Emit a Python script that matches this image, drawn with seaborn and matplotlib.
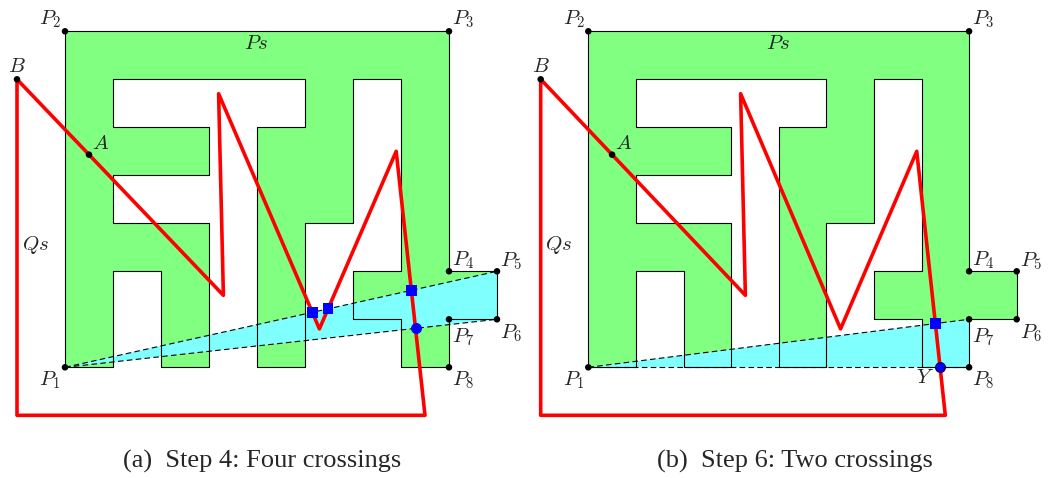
import numpy as np
import matplotlib
matplotlib.use("Agg")
import matplotlib.pyplot as plt
import seaborn as sns

# ------------------------------------------------------------------
# geometry (grid units, P1 at origin)
# ------------------------------------------------------------------
ps_x = [0, 1, 1, 2, 2, 3, 3, 1, 1, 3, 3, 1, 1, 5, 5, 4, 4, 5, 5, 6, 6, 7, 7, 6, 6, 7, 7, 8, 8, 9, 9, 8, 8, 0]
ps_y = [0, 0, 2, 2, 0, 0, 3, 3, 4, 4, 5, 5, 6, 6, 5, 5, 0, 0, 3, 3, 6, 6, 2, 2, 1, 1, 0, 0, 1, 1, 2, 2, 7, 7]

qs_x = [-1, 3.3, 3.2, 5.3, 6.9, 7.5, -1, -1]
qs_y = [6, 1.5, 5.7, 0.8, 4.5, -1, -1, 6]

pt_names = ["P_1", "P_2", "P_3", "P_4", "P_5", "P_6", "P_7", "P_8"]
pt_x = [0, 0, 8, 8, 9, 9, 8, 8]
pt_y = [0, 7, 7, 2, 2, 1, 1, 0]
pt_off = [(-0.31, -0.27), (-0.31, 0.25), (0.3, 0.25), (0.3, 0.23),
          (0.3, 0.2), (0.3, -0.28), (0.3, -0.38), (0.3, -0.27)]

a_pt = (0.5, 4.43)
b_pt = (-1, 6)

captions = ["(a)  Step 4: Four crossings", "(b)  Step 6: Two crossings"]

GREEN = "#80FF80"
CYAN = "#80FFFF"
RED = "#FF0000"
BLUE = "#0000FF"


def ray_hits(seg_ids, d):
    # intersections of ray from origin along d with red segments
    out = []
    for i in seg_ids:
        p = np.array([qs_x[i], qs_y[i]])
        q = np.array([qs_x[i + 1], qs_y[i + 1]])
        m = np.array([[d[0], -(q - p)[0]], [d[1], -(q - p)[1]]])
        s, t = np.linalg.solve(m, p)
        out.append(p + t * (q - p))
    return np.array(out)


sns.set_style("white")
plt.rcParams["mathtext.fontset"] = "cm"
plt.rcParams["font.family"] = ["Liberation Serif", "DejaVu Serif"]

fig = plt.figure(figsize=(10.48, 4.78), dpi=100)

panels = [
    dict(pos=[0, 38 / 478, 524 / 1048, 440 / 478], p0=65.0, ux=48.0,
         tri=(4, 5), sq=([2, 3, 4], (9, 2)), circ=([4], (9, 1)), circ_edge=BLUE, ylab=False),
    dict(pos=[524 / 1048, 38 / 478, 524 / 1048, 440 / 478], p0=588.3 - 524, ux=47.6,
         tri=(6, 7), sq=([4], (8, 1)), circ=([4], (8, 0.0001)), circ_edge="#000040", ylab=True),
]

for k, pan in enumerate(panels):
    ax = fig.add_axes(pan["pos"])
    ax.set_xlim(-pan["p0"] / pan["ux"], (524 - pan["p0"]) / pan["ux"])
    ax.set_ylim((367.3 - 440) / 48, 367.3 / 48)
    ax.set_axis_off()

    # green polygon
    ax.fill(ps_x, ps_y, facecolor=GREEN, edgecolor="none", zorder=1)
    # cyan triangle
    i, j = pan["tri"]
    ax.fill([0, pt_x[i], pt_x[j]], [0, pt_y[i], pt_y[j]], facecolor=CYAN, edgecolor="none", zorder=2)
    # outline
    ax.plot(ps_x + [ps_x[0]], ps_y + [ps_y[0]], color="black", lw=0.8, zorder=3)
    # dashed rays
    for n in (i, j):
        ax.plot([0, pt_x[n]], [0, pt_y[n]], color="black", lw=0.8, ls=(0, (5, 3)), zorder=4)

    # red polygon
    sns.lineplot(x=qs_x, y=qs_y, sort=False, estimator=None, color=RED, lw=2.6, ax=ax, zorder=5)

    # black points
    sns.scatterplot(x=pt_x + [a_pt[0], b_pt[0]], y=pt_y + [a_pt[1], b_pt[1]],
                    color="black", s=22, edgecolor="none", ax=ax, zorder=6)

    # crossings
    sq = ray_hits(*pan["sq"])
    sns.scatterplot(x=sq[:, 0], y=sq[:, 1], marker="s", color=BLUE, s=60,
                    edgecolor="none", ax=ax, zorder=7)
    ci = ray_hits(*pan["circ"])
    sns.scatterplot(x=ci[:, 0], y=ci[:, 1], marker="o", color=BLUE, s=50,
                    edgecolor=pan["circ_edge"], linewidth=0.8, ax=ax, zorder=7)

    # labels
    for name, x, y, (dx, dy) in zip(pt_names, pt_x, pt_y, pt_off):
        ax.text(x + dx, y + dy, f"${name}$", fontsize=15, ha="center", va="center", zorder=8)
    ax.text(b_pt[0], b_pt[1] + 0.25, "$B$", fontsize=15, ha="center", va="center")
    ax.text(a_pt[0] + 0.23, a_pt[1] + 0.22, "$A$", fontsize=15, ha="center", va="center")
    ax.text(3.98, 6.73, "$Ps$", fontsize=15, ha="center", va="center")
    ax.text(-0.62, 2.55, "$Qs$", fontsize=15, ha="center", va="center")
    if pan["ylab"]:
        ax.text(ci[0, 0] - 0.32, -0.24, "$Y$", fontsize=15, ha="center", va="center")

fig.text(262 / 1048, 1 - 461 / 478, captions[0], fontsize=19, ha="center", va="center")
fig.text(795 / 1048, 1 - 461 / 478, captions[1], fontsize=19, ha="center", va="center")

fig.savefig("out.png", dpi=100)
